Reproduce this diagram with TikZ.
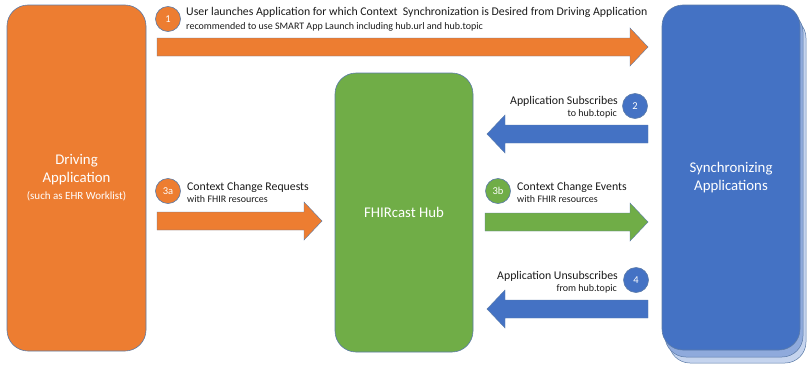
\documentclass[tikz,border=0pt]{standalone}
\usepackage{fontspec}
\setmainfont{Carlito}
\usetikzlibrary{calc}
\definecolor{ofcorange}{HTML}{ED7D31}
\definecolor{ofcgreen}{HTML}{70AD47}
\definecolor{ofcblue}{HTML}{4472C4}
\definecolor{ofcblueA}{HTML}{8FAADC}
\definecolor{ofcblueB}{HTML}{C5D4EE}
\definecolor{ofcline}{HTML}{5B7BA8}
\definecolor{ofctext}{HTML}{1A1A1A}
% block arrows, pointing right or left: [style](start x,center y)(tip x)
\def\arrowR[#1](#2,#3)(#4){\draw[#1] (#2,#3-9) -- (#4-18,#3-9) -- (#4-18,#3-19) -- (#4,#3) -- (#4-18,#3+19) -- (#4-18,#3+9) -- (#2,#3+9) -- cycle;}
\def\arrowL[#1](#2,#3)(#4){\draw[#1] (#2,#3-9) -- (#4+18,#3-9) -- (#4+18,#3-19) -- (#4,#3) -- (#4+18,#3+19) -- (#4+18,#3+9) -- (#2,#3+9) -- cycle;}
\tikzset{
  appbox/.style={draw=ofcline, line width=0.6, rounded corners=21, text=white,
    align=center, inner sep=0, font=\fontsize{14.8}{18}\selectfont},
  numdot/.style={circle, draw=ofcline, line width=0.6, minimum size=25, inner sep=0,
    text=white, font=\fontsize{10.5}{12}\selectfont},
  steptitle/.style={text=ofctext, inner sep=0, font=\fontsize{11.8}{13}\selectfont},
  stepnote/.style={text=ofctext, inner sep=0, font=\fontsize{10}{11}\selectfont},
  blockar/.style={draw=ofcline, line width=0.4},
}
\begin{document}
\begin{tikzpicture}[x=1pt, y=-1pt]
		%%%%% START %%%%%
		\useasboundingbox (0,0) rectangle (808,364);
		
		% boxes
		\node[appbox, fill=ofcorange, minimum width=139, minimum height=346] (driving) at (76.5,178)
			{Driving\\Application\\[-1pt]{\fontsize{11}{13}\selectfont (such as EHR Worklist)}};
		\node[appbox, fill=ofcgreen, minimum width=138, minimum height=279] (hub) at (404,212.5)
			{FHIRcast Hub};
		\draw[ofcline, line width=0.5, fill=ofcblueB, rounded corners=21] (669,17) rectangle (806,363);
		\draw[ofcline, line width=0.5, fill=ofcblueA, rounded corners=21] (665,11) rectangle (803,357);
		\node[appbox, fill=ofcblue, minimum width=138, minimum height=345] (sync) at (731,177.5)
			{Synchronizing\\Applications};
		
		% 1
		\arrowR[blockar, fill=ofcorange](157,47)(648);
		\node[numdot, fill=ofcorange] (n1) at (168,19) {1};
		\node[steptitle, anchor=base west] (t1) at (186,16)
			{User launches Application for which Context\ \ Synchronization is Desired from Driving Application};
		\node[stepnote, anchor=base west] (s1) at (186,29)
			{recommended to use SMART App Launch including hub.url and hub.topic};
		
		% 2
		\arrowL[blockar, fill=ofcblue](648,134)(487);
		\node[numdot, fill=ofcblue] (n2) at (635,106) {2};
		\node[steptitle, anchor=base east] (t2) at (618,104) {Application Subscribes};
		\node[stepnote, anchor=base east] (s2) at (617,116) {to hub.topic};
		
		% 3a
		\arrowR[blockar, fill=ofcorange](157,221)(322);
		\node[numdot, fill=ofcorange] (n3a) at (168,191) {3a};
		\node[steptitle, anchor=base west] (t3a) at (187,190) {Context Change Requests};
		\node[stepnote, anchor=base west] (s3a) at (187,202) {with FHIR resources};
		
		% 3b
		\arrowR[blockar, fill=ofcgreen](485,222)(648);
		\node[numdot, fill=ofcgreen] (n3b) at (498,191) {3b};
		\node[steptitle, anchor=base west] (t3b) at (517,190) {Context Change Events};
		\node[stepnote, anchor=base west] (s3b) at (517,202) {with FHIR resources};
		
		% 4
		\arrowL[blockar, fill=ofcblue](648,309)(487);
		\node[numdot, fill=ofcblue] (n4) at (636,280) {4};
		\node[steptitle, anchor=base east] (t4) at (618,279) {Application Unsubscribes};
		\node[stepnote, anchor=base east] (s4) at (617,291) {from hub.topic};
		
		%%%%% END %%%%%
\end{tikzpicture}
\end{document}
